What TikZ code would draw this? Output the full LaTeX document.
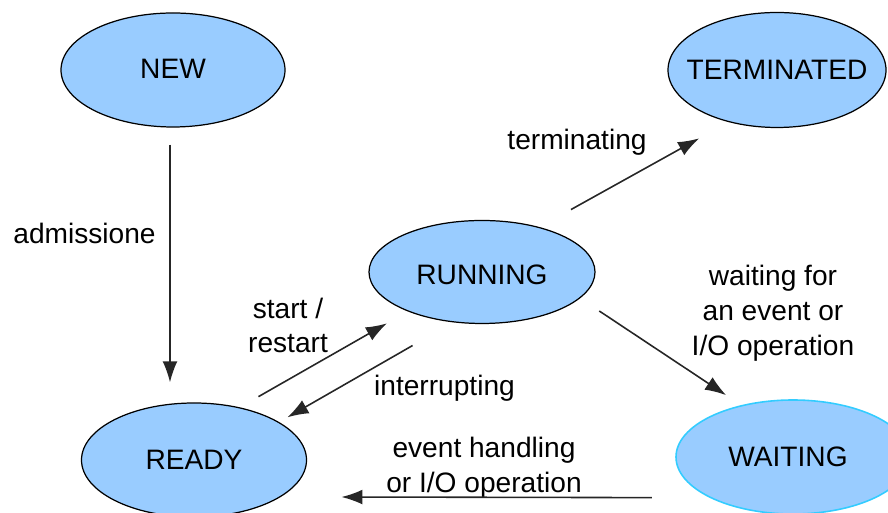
\documentclass[tikz,border=0pt]{standalone}
\usepackage{fontspec}
\setmainfont{Liberation Sans}
\usetikzlibrary{arrows.meta,shapes.geometric}

\definecolor{stateblue}{HTML}{99CCFF}
\definecolor{waitcyan}{HTML}{33CCFF}

\begin{document}
\begin{tikzpicture}[>=latex, font=\fontsize{16}{19.8}\selectfont]

% --- Styles for states and transitions ---
\tikzset{
    state/.style={ellipse, fill=stateblue, draw=black, line width=0.7pt, inner sep=0pt,
                  minimum width=4.5cm, minimum height=2.28cm},
    lbl/.style={align=center, inner sep=0pt},
    flow/.style={-{Latex[length=12pt,width=8.5pt]}, line width=0.9pt, draw=black!85}
}

    \useasboundingbox (0,0) rectangle (17.76,10.26);

    % Stati del processo
    \node[state, minimum width=4.48cm, label={[yshift=0.03cm]center:NEW}] (new) at (3.46, 8.86) {};
    \node[state, minimum width=4.36cm, minimum height=2.3cm, label=center:TERMINATED] (terminated) at (15.54, 8.86) {};
    \node[state, minimum width=4.52cm, minimum height=2.06cm, label={[yshift=-0.06cm]center:RUNNING}] (running) at (9.64, 4.82) {};
    \node[state, label=center:READY] (ready) at (3.88, 1.06) {};
    \node[state, draw=waitcyan, line width=0.9pt, minimum width=4.68cm, label={[xshift=-0.1cm]center:WAITING}] (waiting) at (15.86, 1.12) {};

    % Etichette delle transizioni
    \node[lbl] (admit) at (1.69, 5.6) {admissione};
    \node[lbl] (startlbl) at (5.76, 3.75) {start /\\restart};
    \node[lbl] (intlbl) at (8.89, 2.5) {interrupting};
    \node[lbl] (termlbl) at (11.54, 7.41) {terminating};
    \node[lbl] (waitlbl) at (15.46, 4.0) {waiting for\\an event or\\I/O operation};
    \node[lbl] (eventlbl) at (9.68, 0.9) {event handling\\or I/O operation};

    % Transizioni
    \draw[flow, shorten <=0.34cm, shorten >=0.4cm] (new.267) -- (new.267 |- ready.north);
    \draw[flow, shorten <=0.43cm, shorten >=0.48cm] (ready.49) -- (running.208);
    \draw[flow, shorten <=0.93cm, shorten >=0.19cm] (running.240) -- (ready.24);
    \draw[flow, shorten <=0.72cm, shorten >=0.67cm] (running.38) -- (terminated.227);
    \draw[flow, shorten <=0.46cm, shorten >=0.36cm] (running.345) -- (waiting.135);
    \draw[flow, shorten <=1.15cm, shorten >=1.21cm] (waiting.206) -- (ready.337);

\end{tikzpicture}
\end{document}
